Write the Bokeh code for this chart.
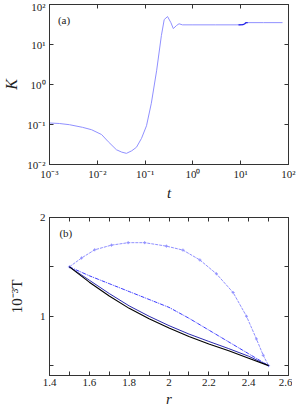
import numpy as np
from bokeh.plotting import figure
from bokeh.layouts import column
from bokeh.models import (FixedTicker, LinearAxis, LogAxis, Label, Range1d,
                          CustomJSTickFormatter)
from bokeh.embed import file_html
from bokeh.resources import INLINE

# ---------------- data: panel (a) ----------------
t_vals = [1e-3, 1.6e-3, 2.6e-3, 4.9e-3, 7.6e-3, 0.0123, 0.017, 0.0251, 0.0324, 0.0407,
          0.0525, 0.066, 0.0841, 0.107, 0.135, 0.174, 0.219, 0.251, 0.295, 0.347,
          0.389, 0.457, 0.513, 0.603, 1.0, 3.0, 8.0, 11.5]
K_vals = [0.109, 0.106, 0.099, 0.085, 0.074, 0.056, 0.037, 0.0234, 0.0204, 0.019,
          0.022, 0.027, 0.045, 0.093, 0.34, 2.2, 16.6, 42.0, 50.0, 35.0,
          25.0, 30.0, 33.0, 31.0, 31.0, 31.0, 31.0, 31.3]
t_late = [12.5, 14.0, 30.0, 75.0]
K_late = [35.0, 35.2, 35.2, 35.2]
t_dark = [9.0, 11.0, 12.0, 12.8, 14.0]
K_dark = [31.0, 31.3, 32.5, 35.0, 35.2]

# ---------------- data: panel (b) ----------------
r_upper = [1.5, 1.561, 1.627, 1.711, 1.795, 1.878, 1.987, 2.07, 2.155, 2.238, 2.322,
           2.389, 2.439, 2.473, 2.5]
T_upper = [1.5, 1.59, 1.673, 1.72, 1.745, 1.745, 1.71, 1.67, 1.57, 1.43, 1.24,
           1.0, 0.77, 0.605, 0.5]
r_grid = [1.5, 1.6, 1.7, 1.8, 1.9, 2.0, 2.1, 2.2, 2.3, 2.4, 2.5]
T_middle = [1.5, 1.41, 1.33, 1.25, 1.17, 1.09, 0.98, 0.86, 0.74, 0.62, 0.5]
T_blue = [1.5, 1.365, 1.23, 1.105, 1.0, 0.905, 0.82, 0.745, 0.672, 0.595, 0.5]
T_black = [1.5, 1.345, 1.205, 1.08, 0.975, 0.88, 0.795, 0.72, 0.65, 0.575, 0.5]

t_ticks = [1e-3, 1e-2, 1e-1, 1.0, 10.0, 100.0]
K_ticks = [1e-2, 1e-1, 1.0, 10.0, 100.0]
r_ticks = [1.4, 1.5, 1.6, 1.7, 1.8, 1.9, 2.0, 2.1, 2.2, 2.3, 2.4, 2.5, 2.6]
T_ticks = [0.5, 1.0, 1.5, 2.0]

SERIF = "Liberation Serif"
LIGHT = "#9090ff"
DARK = "#1a1ae6"

log_fmt = CustomJSTickFormatter(code="""
const e = Math.round(Math.log10(tick));
const sup = {'-':'\u207b','0':'\u2070','1':'\u00b9','2':'\u00b2','3':'\u00b3',
             '4':'\u2074','5':'\u2075','6':'\u2076','7':'\u2077','8':'\u2078','9':'\u2079'};
let s = '';
for (const c of String(e)) s += sup[c];
return '10' + s;
""")


def style(p):
    p.background_fill_color = "white"
    p.border_fill_color = "white"
    p.outline_line_color = "#333333"
    p.outline_line_width = 1
    p.xgrid.visible = False
    p.ygrid.visible = False
    for ax in p.axis:
        ax.axis_line_color = "#333333"
        ax.major_tick_in = 4
        ax.major_tick_out = 0
        ax.minor_tick_line_color = None
        ax.major_tick_line_color = "#333333"
        ax.major_label_text_font = SERIF
        ax.major_label_text_font_size = "11px"
        ax.major_label_text_color = "#222222"
        ax.axis_label_text_font = SERIF
        ax.axis_label_text_font_style = "italic"
        ax.axis_label_text_color = "#222222"
    p.xaxis.major_label_standoff = 3
    p.yaxis.major_label_standoff = 4


def mirror(p, ticker, log):
    Ax = LogAxis if log else LinearAxis
    for side in ("right", "above"):
        ax = Ax(ticker=ticker[side], formatter=CustomJSTickFormatter(code="return '';"))
        ax.major_tick_in = 4
        ax.major_tick_out = 0
        ax.minor_tick_line_color = None
        ax.major_label_text_font_size = "0px"
        ax.major_label_standoff = 0
        ax.axis_line_color = "#333333"
        ax.major_tick_line_color = "#333333"
        p.add_layout(ax, side)


# ---------------- panel (a) ----------------
p1 = figure(frame_width=239, frame_height=160, x_axis_type="log", y_axis_type="log",
            x_range=Range1d(1e-3, 1e2), y_range=Range1d(1e-2, 1e2),
            output_backend="svg", toolbar_location=None,
            min_border_left=40, min_border_right=9, min_border_top=4,
            min_border_bottom=4)
p1.line(t_vals, K_vals, line_color=LIGHT, line_width=1)
p1.line(t_late, K_late, line_color=LIGHT, line_width=1)
p1.line(t_dark, K_dark, line_color=DARK, line_width=1.2)
p1.xaxis.ticker = FixedTicker(ticks=t_ticks)
p1.yaxis.ticker = FixedTicker(ticks=K_ticks)
p1.xaxis.formatter = log_fmt
p1.yaxis.formatter = log_fmt
p1.xaxis.axis_label = "t"
p1.yaxis.axis_label = "K"
style(p1)
p1.xaxis.axis_label_text_font_size = "15px"
p1.yaxis.axis_label_text_font_size = "16px"
p1.xaxis.axis_label_standoff = 2
p1.yaxis.axis_label_standoff = 4
mirror(p1, {"right": FixedTicker(ticks=K_ticks), "above": FixedTicker(ticks=t_ticks)}, True)
p1.add_layout(Label(x=1.5e-3, y=40, text="(a)", text_font=SERIF,
                    text_font_size="11px", text_baseline="middle",
                    text_color="#222222"))

# ---------------- panel (b) ----------------
p2 = figure(frame_width=239, frame_height=158, x_range=Range1d(1.4, 2.6),
            y_range=Range1d(0.4, 2.0),
            output_backend="svg", toolbar_location=None,
            min_border_left=40, min_border_right=9, min_border_top=14,
            min_border_bottom=3)
p2.line(r_upper, T_upper, line_color=LIGHT, line_width=1, line_dash="3 1")
p2.scatter(r_upper, T_upper, marker="cross", size=3, line_color=LIGHT)
p2.line(r_grid, T_middle, line_color="#3a3aff", line_width=1, line_dash="4 1 1 1")
p2.line(r_grid, T_blue, line_color="#2a2ab0", line_width=1)
p2.line(r_grid, T_black, line_color="black", line_width=1.1)
p2.xaxis.ticker = FixedTicker(ticks=r_ticks)
p2.yaxis.ticker = FixedTicker(ticks=T_ticks)
p2.xaxis.formatter = CustomJSTickFormatter(code="""
const k = Math.round(tick*10);
if (k % 2 != 0) return '';
return (k == 20) ? '2' : (k/10).toFixed(1);
""")
p2.yaxis.formatter = CustomJSTickFormatter(code="""
const k = Math.round(tick*10);
if (k == 10) return '1';
if (k == 20) return '2';
return '';
""")
p2.xaxis.axis_label = "r"
p2.yaxis.axis_label = "10\u207b\u00b3T"
style(p2)
p2.yaxis.axis_label_text_font_style = "normal"
p2.xaxis.axis_label_text_font_size = "15px"
p2.yaxis.axis_label_text_font_size = "15px"
p2.xaxis.axis_label_standoff = 2
p2.yaxis.axis_label_standoff = 12
mirror(p2, {"right": FixedTicker(ticks=T_ticks), "above": FixedTicker(ticks=r_ticks)}, False)
p2.add_layout(Label(x=1.45, y=1.845, text="(b)", text_font=SERIF,
                    text_font_size="11px", text_baseline="middle",
                    text_color="#222222"))

layout = column(p1, p2, spacing=0)
open("out.html", "w").write(file_html(layout, INLINE))
